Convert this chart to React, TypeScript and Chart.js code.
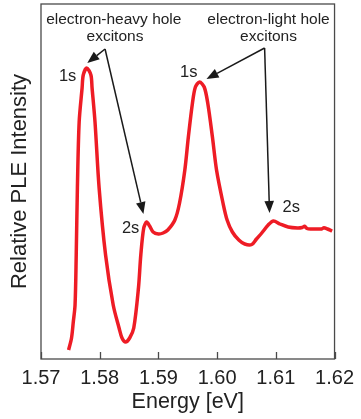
import React, { useEffect, useRef } from "react";
import { Chart, registerables } from "chart.js";

Chart.register(...registerables);

const energy = [
  1.5747, 1.5752, 1.5755, 1.5758, 1.576, 1.5762, 1.5765, 1.577, 1.5772, 1.5778, 1.5785, 1.5787, 1.5792,
  1.5799, 1.581, 1.5823, 1.5833, 1.5838, 1.5844, 1.5851, 1.5858, 1.5866, 1.587, 1.5875, 1.588, 1.5885,
  1.5891, 1.59, 1.5908, 1.5916, 1.5928, 1.5936, 1.5945, 1.5951, 1.5958, 1.5963, 1.597, 1.5978, 1.5984,
  1.5992, 1.5999, 1.601, 1.6017, 1.6026, 1.6037, 1.6047, 1.6059, 1.6067, 1.6076, 1.6087, 1.6096, 1.6107,
  1.6121, 1.6137, 1.6145, 1.6149, 1.6153, 1.616, 1.6174, 1.6178, 1.6182, 1.6188, 1.6196,
];
const intensity = [
  9, 21, 37, 54, 104, 171, 237, 271, 284, 291, 284, 271, 237,
  171, 104, 54, 31, 21, 17, 21, 31, 71, 104, 131, 137, 133,
  127, 125, 126, 129, 139, 156, 189, 222, 256, 272, 277, 272, 256,
  222, 189, 156, 139, 127, 119, 115, 114.5, 120, 126, 134, 138, 135,
  132, 131, 131.5, 132.7, 130.5, 130, 130, 130, 131.2, 130, 128,
];
const xTicks = [1.57, 1.58, 1.59, 1.6, 1.61, 1.62];

// annotation texts
const labelTexts = ["electron-heavy hole", "excitons", "electron-light hole", "excitons", "1s", "1s", "2s", "2s"];
const labelX = [1.5824, 1.5826, 1.60876, 1.60876, 1.57453, 1.59517, 1.58527, 1.61262];
const labelY = [339, 322, 339, 322, 283, 287, 131, 152];
const labelSize = [15.5, 15.5, 15.5, 15.5, 16.5, 16.5, 16.5, 16.5];

// arrows: from vertex to tip
const arrowFromX = [1.58091, 1.58091, 1.60809, 1.60809];
const arrowFromY = [310, 310, 311, 311];
const arrowToX = [1.57789, 1.58745, 1.59819, 1.60893];
const arrowToY = [296, 145, 280, 146];

const FONT = "'Liberation Sans', Arial, Helvetica, sans-serif";

const overlay = {
  id: "overlay",
  afterDraw(chart: any) {
    const { ctx, chartArea, scales } = chart;
    const xs = scales.x;
    const ys = scales.y;
    ctx.save();
    // frame
    ctx.strokeStyle = "#4a4a4a";
    ctx.lineWidth = 1.3;
    ctx.strokeRect(chartArea.left, chartArea.top, chartArea.right - chartArea.left, chartArea.bottom - chartArea.top);
    // inside ticks
    ctx.beginPath();
    xTicks.forEach((t) => {
      const px = Math.round(xs.getPixelForValue(t)) + 0.5;
      ctx.moveTo(px, chartArea.bottom);
      ctx.lineTo(px, chartArea.bottom - 7);
    });
    ctx.stroke();
    // arrows
    ctx.strokeStyle = "#1a1a1a";
    ctx.fillStyle = "#1a1a1a";
    ctx.lineWidth = 1.5;
    for (let i = 0; i < arrowFromX.length; i++) {
      const x1 = xs.getPixelForValue(arrowFromX[i]);
      const y1 = ys.getPixelForValue(arrowFromY[i]);
      const x2 = xs.getPixelForValue(arrowToX[i]);
      const y2 = ys.getPixelForValue(arrowToY[i]);
      const ang = Math.atan2(y2 - y1, x2 - x1);
      const len = 12;
      const hw = 4.8;
      const bx = x2 - len * Math.cos(ang);
      const by = y2 - len * Math.sin(ang);
      ctx.beginPath();
      ctx.moveTo(x1, y1);
      ctx.lineTo(bx, by);
      ctx.stroke();
      ctx.beginPath();
      ctx.moveTo(x2, y2);
      ctx.lineTo(bx + hw * Math.sin(ang), by - hw * Math.cos(ang));
      ctx.lineTo(bx - hw * Math.sin(ang), by + hw * Math.cos(ang));
      ctx.closePath();
      ctx.fill();
    }
    // texts
    ctx.fillStyle = "#222";
    ctx.textAlign = "center";
    ctx.textBaseline = "middle";
    for (let i = 0; i < labelTexts.length; i++) {
      ctx.font = `${labelSize[i]}px ${FONT}`;
      ctx.fillText(labelTexts[i], xs.getPixelForValue(labelX[i]), ys.getPixelForValue(labelY[i]));
    }
    ctx.restore();
  },
};

export default function App() {
  const ref = useRef<HTMLCanvasElement>(null);
  useEffect(() => {
    if (!ref.current) return;
    const chart = new Chart(ref.current, {
      type: "line",
      data: {
        datasets: [
          {
            data: energy.map((e, i) => ({ x: e, y: intensity[i] })),
            borderColor: "#ee1c25",
            borderWidth: 3.5,
            pointRadius: 0,
            tension: 0.3,
            borderJoinStyle: "round",
            fill: false,
          },
        ],
      },
      options: {
        animation: false,
        responsive: false,
        layout: { padding: { left: 0, right: 22, top: 4, bottom: 0 } },
        plugins: { legend: { display: false }, tooltip: { enabled: false } },
        scales: {
          x: {
            type: "linear",
            min: 1.57,
            max: 1.62,
            afterBuildTicks: (axis: any) => {
              axis.ticks = xTicks.map((v) => ({ value: v }));
            },
            afterFit: (axis: any) => {
              axis.height = 60;
            },
            grid: { display: false, drawTicks: false },
            border: { display: false },
            ticks: {
              padding: 7,
              color: "#222",
              font: { size: 20, family: FONT },
              callback: (v: any) => Number(v).toFixed(2),
              maxRotation: 0,
            },
            title: {
              display: true,
              text: "Energy [eV]",
              color: "#222",
              font: { size: 21.5, family: FONT },
              padding: { top: 0, bottom: 4 },
            },
          },
          y: {
            min: 0,
            max: 355,
            afterFit: (axis: any) => {
              axis.width = 41;
            },
            grid: { display: false, drawTicks: false },
            border: { display: false },
            ticks: { display: false },
            title: {
              display: true,
              text: "Relative PLE Intensity",
              color: "#222",
              font: { size: 22, family: FONT },
              padding: { top: 7, bottom: 0 },
            },
          },
        },
      },
      plugins: [overlay],
    });
    return () => chart.destroy();
  }, []);
  return (
    <div style={{ position: "fixed", left: 0, top: 0, width: 361, height: 419, background: "#fff" }}>
      <canvas ref={ref} width={361} height={419} style={{ width: 361, height: 419, display: "block" }} />
    </div>
  );
}
